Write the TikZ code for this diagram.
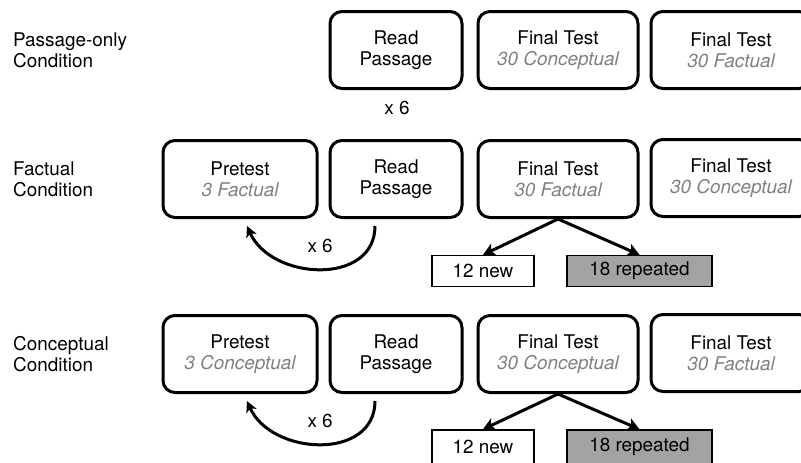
\documentclass[tikz,border=0pt]{standalone}
\usepackage{fontspec}
\setmainfont{TeX Gyre Heros}
\usetikzlibrary{arrows.meta}
\definecolor{note_grey}{HTML}{808080}
\definecolor{box_grey}{HTML}{A3A3A3}
\newcommand{\testnote}[1]{{\color{note_grey}\itshape #1}}

\begin{document}
\begin{tikzpicture}[x=1pt, y=1pt,
	every node/.style={font=\fontsize{18.9}{21}\selectfont},
	stepbox/.style={draw, line width=3pt, rounded corners=12pt, align=center, minimum height=77pt, inner sep=0pt},
	countbox/.style={draw, line width=1.4pt, minimum height=31pt, inner sep=0pt},
	rowlabel/.style={anchor=west, align=left, inner sep=0pt},
	link/.style={line width=3pt, -{Stealth[length=12pt, width=13pt, inset=3pt]}},
	loopback/.style={line width=3pt, -{Stealth[length=11pt, width=11pt, inset=3pt]}}]
	\useasboundingbox (0, 0) rectangle (801, -463);
	% passage-only condition
	\node[rowlabel] (lab1) at (13, -50) {Passage-only\\Condition};
	\node[stepbox, minimum width=132pt] (read1) at (396, -50) {Read\\Passage};
	\node[stepbox, minimum width=160pt] (final1a) at (558, -50) {Final Test\\\testnote{30 Conceptual}};
	\node[stepbox, minimum width=160pt] (final1b) at (731, -50) {Final Test\\\testnote{30 Factual}};
	\node (times1) at (397, -108) {x 6};
	% factual condition
	\node[rowlabel] (lab2) at (13, -179) {Factual\\Condition};
	\node[stepbox, minimum width=154pt] (pre2) at (240, -179) {Pretest\\\testnote{3 Factual}};
	\node[stepbox, minimum width=132pt] (read2) at (396, -179) {Read\\Passage};
	\node[stepbox, minimum width=160pt] (final2a) at (558, -179) {Final Test\\\testnote{30 Factual}};
	\node[stepbox, minimum width=160pt] (final2b) at (731, -178) {Final Test\\\testnote{30 Conceptual}};
	\node[countbox, minimum width=102pt] (new2) at (483, -271) {12 new};
	\node[countbox, minimum width=145pt, fill=box_grey] (rep2) at (639.5, -271) {18 repeated};
	\draw[loopback] ([xshift=-21pt, yshift=-7pt]read2.south) to[out=-90, in=-66, looseness=1.2] node[midway, above=11pt] {x 6} ([xshift=7pt, yshift=-7pt]pre2.south);
	\draw[link] (final2a.south) -- (new2.north);
	\draw[link] (final2a.south) -- (rep2.north);
	% conceptual condition
	\node[rowlabel] (lab3) at (13, -354) {Conceptual\\Condition};
	\node[stepbox, minimum width=154pt] (pre3) at (240, -354) {Pretest\\\testnote{3 Conceptual}};
	\node[stepbox, minimum width=132pt] (read3) at (396, -354) {Read\\Passage};
	\node[stepbox, minimum width=160pt] (final3a) at (558, -354) {Final Test\\\testnote{30 Conceptual}};
	\node[stepbox, minimum width=160pt] (final3b) at (731, -353) {Final Test\\\testnote{30 Factual}};
	\node[countbox, minimum width=102pt, minimum height=34pt] (new3) at (483, -447) {12 new};
	\node[countbox, minimum width=145pt, minimum height=34pt, fill=box_grey] (rep3) at (639.5, -447) {18 repeated};
	\draw[loopback] ([xshift=-21pt, yshift=-7pt]read3.south) to[out=-90, in=-66, looseness=1.2] node[midway, above=11pt] {x 6} ([xshift=7pt, yshift=-7pt]pre3.south);
	\draw[link] (final3a.south) -- (new3.north);
	\draw[link] (final3a.south) -- (rep3.north);
\end{tikzpicture}
\end{document}
